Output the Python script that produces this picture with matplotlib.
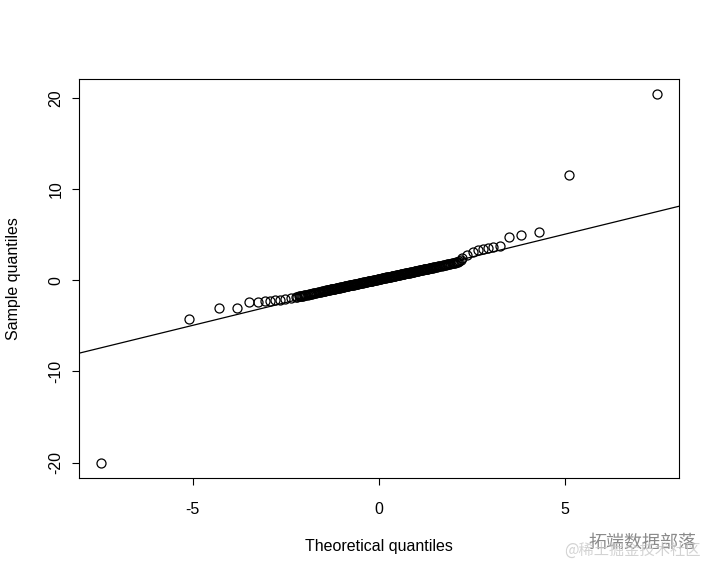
import matplotlib
matplotlib.use('Agg')
import matplotlib.pyplot as plt

# theoretical quantiles, lower half
x_lower = [-7.46, -5.11, -4.29, -3.81, -3.50, -3.26, -3.06, -2.92, -2.79, -2.65,
           -2.52, -2.36,
           -2.22, -2.19, -2.16, -2.13, -2.10, -2.07, -2.04, -2.01, -1.98, -1.95,
           -1.92, -1.89, -1.86, -1.83, -1.80, -1.77, -1.74, -1.71, -1.68, -1.65,
           -1.62, -1.59, -1.56, -1.53,
           -1.50, -1.48, -1.46, -1.44, -1.42, -1.40, -1.38, -1.36, -1.34, -1.32,
           -1.30, -1.28, -1.26, -1.24, -1.22, -1.20, -1.18, -1.16, -1.14, -1.12,
           -1.10, -1.08, -1.06, -1.04, -1.02, -1.00, -0.98, -0.96, -0.94, -0.92,
           -0.90, -0.88, -0.86, -0.84, -0.82,
           -0.80, -0.78, -0.76, -0.74, -0.72, -0.70, -0.68, -0.66, -0.64, -0.62,
           -0.60, -0.58, -0.56, -0.54, -0.52, -0.50, -0.48, -0.46, -0.44, -0.42,
           -0.40, -0.38, -0.36, -0.34, -0.32, -0.30, -0.28, -0.26, -0.24, -0.22,
           -0.20, -0.18, -0.16, -0.14, -0.12, -0.10, -0.08, -0.06, -0.04, -0.02]

# sample quantiles, lower half
y_lower = [-20.07, -4.25, -3.09, -3.01, -2.43, -2.35, -2.32, -2.25, -2.17, -2.14,
           -2.06, -1.96,
           -1.83, -1.81, -1.78, -1.75, -1.73, -1.70, -1.68, -1.65, -1.62, -1.60,
           -1.57, -1.54, -1.52, -1.49, -1.46, -1.44, -1.41, -1.38, -1.36, -1.33,
           -1.31, -1.28, -1.25, -1.23,
           -1.20, -1.18, -1.16, -1.15, -1.13, -1.11, -1.09, -1.08, -1.06, -1.04,
           -1.02, -1.01, -0.99, -0.97, -0.95, -0.94, -0.92, -0.90, -0.88, -0.87,
           -0.85, -0.83, -0.81, -0.80, -0.78, -0.76, -0.74, -0.72, -0.71, -0.69,
           -0.67, -0.65, -0.64, -0.62, -0.60,
           -0.58, -0.57, -0.55, -0.53, -0.51, -0.50, -0.48, -0.46, -0.44, -0.43,
           -0.41, -0.39, -0.37, -0.36, -0.34, -0.32, -0.30, -0.28, -0.27, -0.25,
           -0.23, -0.21, -0.20, -0.18, -0.16, -0.14, -0.13, -0.11, -0.09, -0.07,
           -0.06, -0.04, -0.02, 0.00, 0.01, 0.03, 0.05, 0.07, 0.08, 0.10]

# theoretical quantiles, upper half
x_upper = [0.00, 0.02, 0.04, 0.06, 0.08, 0.10, 0.12, 0.14, 0.16, 0.18,
           0.20, 0.22, 0.24, 0.26, 0.28, 0.30, 0.32, 0.34, 0.36, 0.38,
           0.40, 0.42, 0.44, 0.46, 0.48, 0.50, 0.52, 0.54, 0.56, 0.58,
           0.60, 0.62, 0.64, 0.66, 0.68, 0.70, 0.72, 0.74, 0.76, 0.78, 0.80,
           0.82, 0.84, 0.86, 0.88, 0.90, 0.92, 0.94, 0.96, 0.98, 1.00,
           1.02, 1.04, 1.06, 1.08, 1.10, 1.12, 1.14, 1.16, 1.18, 1.20,
           1.22, 1.24, 1.26, 1.28, 1.30, 1.32, 1.34, 1.36, 1.38, 1.40,
           1.42, 1.44, 1.46, 1.48, 1.50,
           1.53, 1.56, 1.59, 1.62, 1.65, 1.68, 1.71, 1.74, 1.77, 1.80,
           1.83, 1.86, 1.89, 1.92, 1.95, 1.98, 2.01, 2.04, 2.07, 2.10,
           2.13, 2.16, 2.19,
           2.22, 2.36, 2.52, 2.65, 2.79, 2.92, 3.06, 3.26, 3.50, 3.81,
           4.29, 5.11, 7.46]

# sample quantiles, upper half
y_upper = [0.12, 0.14, 0.16, 0.17, 0.19, 0.21, 0.23, 0.24, 0.26, 0.28,
           0.30, 0.31, 0.33, 0.35, 0.37, 0.38, 0.40, 0.42, 0.44, 0.45,
           0.47, 0.49, 0.51, 0.52, 0.54, 0.56, 0.58, 0.60, 0.61, 0.63,
           0.65, 0.67, 0.68, 0.70, 0.72, 0.74, 0.75, 0.77, 0.79, 0.81, 0.82,
           0.84, 0.86, 0.88, 0.89, 0.91, 0.93, 0.95, 0.96, 0.98, 1.00,
           1.02, 1.04, 1.05, 1.07, 1.09, 1.11, 1.12, 1.14, 1.16, 1.18,
           1.19, 1.21, 1.23, 1.25, 1.26, 1.28, 1.30, 1.32, 1.33, 1.35,
           1.37, 1.39, 1.40, 1.42, 1.44,
           1.47, 1.49, 1.52, 1.55, 1.57, 1.60, 1.62, 1.65, 1.68, 1.70,
           1.73, 1.76, 1.78, 1.81, 1.84, 1.86, 1.89, 1.92, 1.95, 1.99,
           2.04, 2.10, 2.22,
           2.40, 2.75, 3.10, 3.31, 3.42, 3.53, 3.67, 3.72, 4.71, 4.95,
           5.31, 11.49, 20.44]

# reference line (qqline)
line_intercept = 0.05
line_slope = 1.0

x_ticks = [-5, 0, 5]
y_ticks = [-20, -10, 0, 10, 20]

plt.rcParams['font.family'] = ['Liberation Sans', 'DejaVu Sans']
plt.rcParams['axes.unicode_minus'] = False

theo = x_lower + x_upper
samp = y_lower + y_upper

fig = plt.figure(figsize=(7.2, 5.76), dpi=100)
ax = fig.add_axes([79 / 720, 1 - 478 / 576, 600 / 720, 399 / 576])

ax.plot(theo, samp, 'o', mfc='none', mec='black', ms=6.5, mew=0.9)
ax.axline((0, line_intercept), slope=line_slope, color='black', lw=0.9)

# R style 4% padding
xr = max(theo) - min(theo)
yr = max(samp) - min(samp)
ax.set_xlim(min(theo) - 0.04 * xr, max(theo) + 0.04 * xr)
ax.set_ylim(min(samp) - 0.04 * yr, max(samp) + 0.04 * yr)

ax.set_xticks(x_ticks)
ax.set_yticks(y_ticks)
ax.tick_params(axis='both', length=5, width=0.8, labelsize=11.5, color='black')
ax.tick_params(axis='x', pad=12)
ax.tick_params(axis='y', pad=6)
for lbl in ax.get_yticklabels():
    lbl.set_rotation(90)
    lbl.set_va('center')
for s in ax.spines.values():
    s.set_linewidth(0.8)

fig.text(379 / 720, 1 - 546 / 576, 'Theoretical quantiles', ha='center', va='center', fontsize=11.5)
fig.text(14 / 720, 1 - 279 / 576, 'Sample quantiles', ha='center', va='center',
         rotation=90, fontsize=11.5)

# watermark
fig.text(642 / 720, 1 - 543 / 576, '拓端数据部落', ha='center', va='center', fontsize=13,
         color='#8a8a8a', family=['Noto Sans CJK SC', 'DejaVu Sans'])
fig.text(632 / 720, 1 - 550 / 576, '@稀土掘金技术社区', ha='center', va='center', fontsize=11,
         color='#c8c8c8', alpha=0.8, family=['Noto Sans CJK SC', 'DejaVu Sans'])

fig.savefig('out.png', dpi=100)
